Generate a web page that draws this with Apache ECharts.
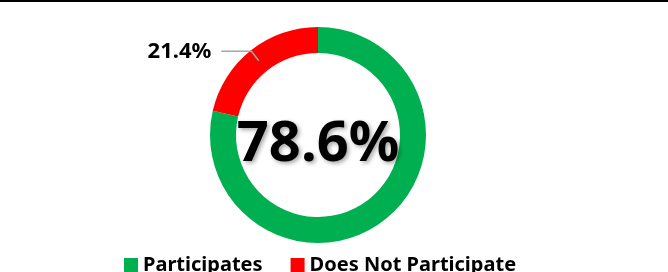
<!DOCTYPE html>
<html>
<head>
<meta charset="utf-8">
<script src="https://cdn.jsdelivr.net/npm/echarts@6/dist/echarts.min.js"></script>
<style>
  html, body { margin: 0; padding: 0; background: #fff; }
  #chart { width: 668px; height: 270px; border-top: 2px solid #000; }
</style>
</head>
<body>
<div id="chart"></div>
<script>
const categories = ['Participates', 'Does Not Participate']
const values = [78.6, 21.4]
const colors = ['#00B050', '#FF0000']

const chart = echarts.init(document.getElementById('chart'))

// main ring; the first slice carries the big centre label
const ringData = categories.map((name, i) => ({
  name,
  value: values[i],
  itemStyle: { color: colors[i] },
  label: { show: i === 0 },
}))

// invisible copy used only to anchor the outside label at mid-ring
const labelData = categories.map((name, i) => ({
  name,
  value: values[i],
  label: { show: i === 1 },
  labelLine: { show: i === 1 },
}))

chart.setOption({
  animation: false,
  legend: {
    bottom: -8,
    left: 119,
    icon: 'rect',
    itemWidth: 14,
    itemHeight: 14,
    itemGap: 28,
    data: categories,
    textStyle: {
      fontFamily: 'Noto Sans',
      fontWeight: 'bold',
      fontSize: 20,
      color: '#000',
    },
  },
  series: [
    {
      type: 'pie',
      center: [318, 133],
      radius: [82, 108],
      startAngle: 90,
      clockwise: true,
      silent: true,
      label: {
        position: 'center',
        formatter: '{c}%',
        fontFamily: 'Noto Sans',
        fontWeight: 'bold',
        fontSize: 56,
        color: '#000',
        offset: [0, 10],
        textShadowColor: 'rgba(0,0,0,0.35)',
        textShadowBlur: 4,
        textShadowOffsetX: 2,
        textShadowOffsetY: 2,
      },
      labelLine: { show: false },
      data: ringData,
    },
    {
      type: 'pie',
      z: 5,
      center: [318, 133],
      radius: [0, 95],
      startAngle: 90,
      clockwise: true,
      silent: true,
      itemStyle: { color: 'rgba(0,0,0,0)' },
      label: {
        position: 'outside',
        formatter: '{c}%',
        fontFamily: 'Noto Sans',
        fontWeight: 'bold',
        fontSize: 22,
        color: '#000',
        distanceToLabelLine: 10,
      },
      labelLine: {
        length: 12,
        length2: 30,
        lineStyle: { color: '#A6A6A6', width: 1.5 },
      },
      data: labelData,
    },
  ],
})
</script>
</body>
</html>
